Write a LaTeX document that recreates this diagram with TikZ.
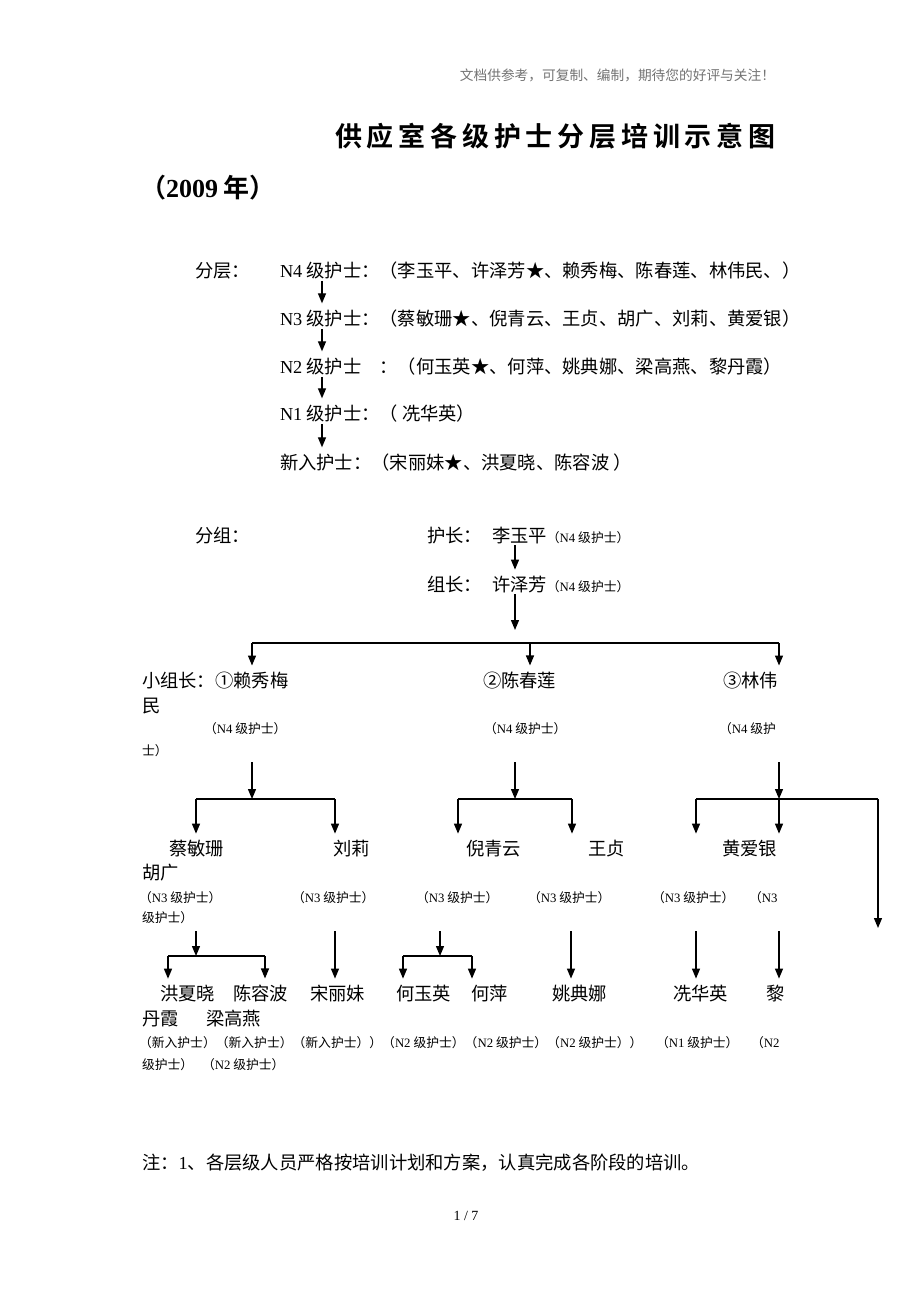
\documentclass[tikz,border=0pt]{standalone}
\usepackage{fontspec}
\setmainfont{Noto Sans CJK SC}[BoldFont={Noto Sans CJK SC Bold}]
\newfontfamily\tnr{Liberation Serif}
\newfontfamily\titlefont[LetterSpace=17.8]{Noto Sans CJK SC Bold}
\usetikzlibrary{arrows.meta}
\newcommand{\en}[1]{{\tnr #1}}
\newcommand{\sm}[1]{{\fontsize{12.8}{15}\selectfont #1}}
\tikzstyle{txt} = [anchor=base west, inner sep=0pt, outer xsep=0pt, outer ysep=6pt, font=\fontsize{18.3}{22}\selectfont]
\tikzstyle{lbl} = [txt, font=\fontsize{12.8}{15}\selectfont]
\tikzstyle{arr} = [line width=1.3pt, -{Triangle[width=8pt,length=10pt]}]
\tikzstyle{hbar} = [line width=1.3pt]

\begin{document}
\begin{tikzpicture}[x=1pt, y=-1pt]
    \fill[white] (0,0) rectangle (920,1302);
    \useasboundingbox (0,0) rectangle (920,1302);

    % header and title
    \node[txt, anchor=base east, text=black!55, font=\fontsize{13.7}{16}\selectfont] (wm) at (775,80) {文档供参考，可复制、编制，期待您的好评与关注！};
    \node[txt, font=\titlefont\fontsize{27}{32}\selectfont] (title) at (335,146) {供应室各级护士分层培训示意图};
    \node[txt, font=\bfseries\fontsize{26}{30}\selectfont] (year) at (140,197) {（\en{2009} 年）};

    % layers
    \node[txt] (fc) at (195,277) {分层：};
    \node[txt] (n4) at (280,277) {\en{N4} 级护士：（李玉平、许泽芳★、赖秀梅、陈春莲、林伟民、）};
    \node[txt] (n3) at (280,325) {\en{N3} 级护士：（蔡敏珊★、倪青云、王贞、胡广、刘莉、黄爱银）};
    \node[txt] (n2) at (280,373) {\en{N2} 级护士　：（何玉英★、何萍、姚典娜、梁高燕、黎丹霞）};
    \node[txt] (n1) at (280,420) {\en{N1} 级护士：（ 冼华英）};
    \node[txt] (nx) at (280,469) {新入护士：（宋丽妹★、洪夏晓、陈容波 ）};
    \coordinate (ax) at (322,0);
    \foreach \a/\b in {n4/n3, n3/n2, n2/n1, n1/nx}
    \draw[arr] ([yshift=4pt]\a.south -| ax) -- (\b.north -| ax);

    % groups
    \node[txt] (fz) at (195,542) {分组：};
    \node[txt] (hz) at (427,542) {护长：};
    \node[txt] (lyp) at (492,542) {李玉平\sm{（\en{N4} 级护士）}};
    \node[txt] (zz) at (427,591) {组长：};
    \node[txt] (xzf) at (492,591) {许泽芳\sm{（\en{N4} 级护士）}};
    \coordinate (bx) at (515,0);
    \coordinate (top) at (515,630);
    \draw[arr] ([yshift=4pt]lyp.south -| bx) -- (xzf.north -| bx);
    \draw[arr] ([yshift=4pt]xzf.south -| bx) -- (top);

    \foreach \n/\x in {1/252, 2/530, 3/779}
    \coordinate (b\n) at (\x,643);
    \draw[hbar] (b1) -- (b3);
    \node[txt] (l1) at (142,687) {小组长：①赖秀梅};
    \node[txt] (l2) at (483,687) {②陈春莲};
    \node[txt] (l3) at (723,687) {③林伟};
    \foreach \n in {1,2,3}
    \draw[arr] (b\n) -- (b\n |- l\n.north);
    \node[txt] (l1b) at (142,712) {民};
    \foreach \n/\x/\t in {1/204/{（\en{N4} 级护士）}, 2/484/{（\en{N4} 级护士）}, 3/719/{（\en{N4} 级护}}
    \node[lbl] (m\n) at (\x,733) {\t};
    \node[lbl] (m1b) at (142,755) {士）};

    % N3 row
    \foreach \n/\x/\l/\r in {1/252/196/335, 2/515/458/572, 3/779/696/878} {
        \coordinate (c\n) at (\x,799);
        \coordinate (cl\n) at (\l,799);
        \coordinate (cr\n) at (\r,799);
        \draw[arr] ([yshift=-22pt]m\n.south -| c\n) -- (c\n);
        \draw[hbar] (cl\n) -- (cr\n);
    }
    \foreach \n/\x/\t in {1/169/蔡敏珊, 2/333/刘莉, 3/466/倪青云, 4/588/王贞, 5/722/黄爱银}
    \node[txt] (t\n) at (\x,855) {\t};
    \node[txt] (t1b) at (142,879) {胡广};
    \foreach \j/\t in {cl1/t1, cr1/t2, cl2/t3, cr2/t4, cl3/t5, c3/t5}
    \draw[arr] (\j) -- (\j |- \t.north);
    \coordinate (far) at (878,928);
    \draw[arr] (cr3) -- (far);
    \foreach \n/\x in {1/139, 2/292, 3/416, 4/528, 5/652}
    \node[lbl] (p\n) at (\x,902) {（\en{N3} 级护士）};
    \node[lbl] (p6) at (749,902) {（\en{N3}};
    \node[lbl] (p1b) at (142,922) {级护士）};

    % N2, N1 and new nurses row
    \foreach \n/\x/\l/\r in {1/196/168/265, 2/440/403/472} {
        \coordinate (d\n) at (\x,956);
        \coordinate (dl\n) at (\l,956);
        \coordinate (dr\n) at (\r,956);
        \draw[hbar] (dl\n) -- (dr\n);
    }
    \draw[arr] ([yshift=-22pt]p1.south -| d1) -- (d1);
    \draw[arr] ([yshift=-22pt]p3.south -| d2) -- (d2);
    \foreach \n/\x/\t in {1/160/洪夏晓, 2/233/陈容波, 3/310/宋丽妹, 4/396/何玉英, 5/471/何萍, 6/552/姚典娜, 7/673/冼华英, 8/766/黎}
    \node[txt] (q\n) at (\x,1000) {\t};
    \foreach \j/\t in {dl1/q1, dr1/q2, dl2/q4, dr2/q5}
    \draw[arr] (\j) -- (\j |- \t.north);
    \foreach \n/\x in {1/335, 2/571, 3/696, 4/779}
    \coordinate (v\n) at (\x,0);
    \foreach \n/\p/\q in {1/p2/q3, 2/p4/q6, 3/p5/q7, 4/p6/q8}
    \draw[arr] ([yshift=-22pt]\p.south -| v\n) -- (v\n |- \q.north);
    \node[txt] (q1b) at (142,1025) {丹霞};
    \node[txt] (q2b) at (206,1025) {梁高燕};
    \node[lbl] (r1) at (139,1047) {（新入护士）（新入护士）（新入护士））（\en{N2} 级护士）（\en{N2} 级护士）（\en{N2} 级护士））};
    \node[lbl] (r2) at (656,1047) {（\en{N1} 级护士）};
    \node[lbl] (r3) at (751,1047) {（\en{N2}};
    \node[lbl] (r1b) at (142,1069) {级护士）};
    \node[lbl] (r2b) at (202,1069) {（\en{N2} 级护士）};

    % note and page number
    \node[txt] (zhu) at (142,1169) {注：\en{1}、各层级人员严格按培训计划和方案，认真完成各阶段的培训。};
    \node[txt, anchor=base, font=\tnr\fontsize{14}{16}\selectfont] (pg) at (466,1220) {1 / 7};
\end{tikzpicture}
\end{document}
